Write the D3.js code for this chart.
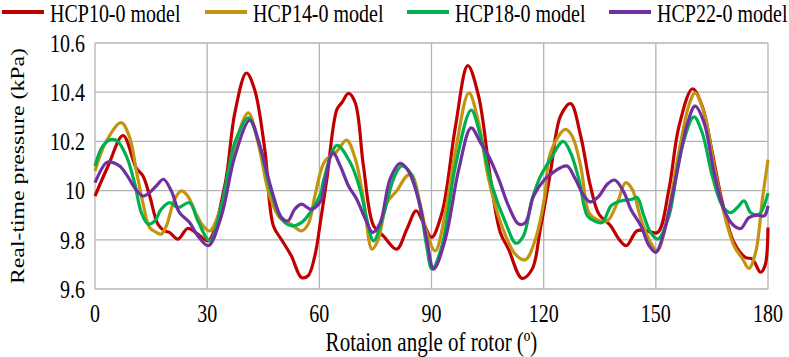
<!DOCTYPE html>
<html>
<head>
<meta charset="utf-8">
<script src="https://cdn.jsdelivr.net/npm/d3@7"></script>
<style>
  body { margin: 0; background: #fff; }
</style>
</head>
<body>
<svg id="chart" width="789" height="357"></svg>
<script>
// series data (angle in degrees, pressure in kPa)
const seriesNames = ["HCP10-0 model", "HCP14-0 model", "HCP18-0 model", "HCP22-0 model"];
const seriesColors = ["#C00000", "#C39410", "#00B050", "#7030A0"];

const hcp10Angle = [0, 3.5, 7.5, 11.0, 12.8, 14.6, 16.8, 18.6, 19.9, 22.2, 24.8, 27.5, 30.3, 34.7, 37.4, 40.5, 42.7, 45.4, 47.7, 49.9, 52.5, 55.2, 57.0, 58.8, 60.4, 62.0, 64.7, 66.0, 67.8, 69.6, 71.8, 74.5, 77.1, 80.7, 83.4, 85.9, 87.8, 90.0, 92.8, 96.4, 99.7, 102.6, 105.8, 108.4, 110.6, 114.2, 116.9, 119.1, 121.8, 124.5, 127.2, 129.9, 132.5, 134.8, 137.9, 140.1, 142.1, 145.0, 147.7, 150.5, 153.5, 156.2, 159.8, 162.4, 165.1, 167.8, 170.9, 174.0, 175.8, 178.0, 179.2, 180];
const hcp10Value = [9.978, 10.10, 10.224, 10.093, 10.06, 9.98, 9.864, 9.836, 9.83, 9.803, 9.846, 9.823, 9.796, 10.019, 10.316, 10.478, 10.41, 10.168, 9.857, 9.80, 9.735, 9.647, 9.654, 9.735, 9.884, 10.046, 10.33, 10.357, 10.395, 10.357, 10.10, 9.857, 9.816, 9.762, 9.843, 9.918, 9.87, 9.81, 9.91, 10.26, 10.508, 10.384, 10.046, 9.83, 9.762, 9.643, 9.68, 9.843, 10.073, 10.303, 10.354, 10.222, 10.019, 9.904, 9.857, 9.803, 9.776, 9.837, 9.835, 9.83, 10.005, 10.262, 10.414, 10.343, 10.154, 9.951, 9.789, 9.728, 9.722, 9.668, 9.695, 9.85];

const hcp14Angle = [0, 3.0, 7.0, 9.3, 11.0, 12.8, 14.6, 16.4, 17.7, 19.1, 21.3, 23.1, 24.8, 27.1, 28.9, 30.7, 33.8, 37.4, 41.0, 43.6, 46.7, 49.4, 52.5, 55.2, 57.0, 58.8, 60.4, 61.5, 64.7, 67.3, 69.6, 71.8, 74.1, 75.8, 78.1, 80.7, 83.4, 84.7, 86.9, 88.7, 91.0, 93.7, 96.4, 100.0, 102.6, 105.3, 108.8, 112.4, 115.1, 117.8, 120.3, 121.8, 125.8, 127.6, 129.9, 132.1, 134.0, 137.0, 139.7, 141.9, 143.7, 146.0, 148.6, 150.4, 152.6, 156.2, 158.9, 160.5, 162.9, 165.6, 168.2, 170.9, 173.2, 174.9, 176.7, 178.5, 180];
const hcp14Value = [10.08, 10.20, 10.276, 10.215, 10.086, 9.951, 9.85, 9.83, 9.823, 9.857, 9.965, 9.999, 9.978, 9.904, 9.857, 9.836, 9.938, 10.181, 10.316, 10.195, 9.978, 9.89, 9.863, 9.836, 9.863, 9.978, 10.08, 10.12, 10.16, 10.205, 10.13, 9.965, 9.762, 9.803, 9.951, 9.999, 10.06, 10.066, 9.951, 9.83, 9.755, 9.91, 10.16, 10.397, 10.276, 10.046, 9.857, 9.742, 9.719, 9.803, 9.978, 10.154, 10.249, 10.222, 10.10, 9.91, 9.884, 9.877, 9.951, 10.032, 10.005, 9.884, 9.789, 9.755, 9.857, 10.16, 10.35, 10.397, 10.316, 10.10, 9.91, 9.776, 9.722, 9.684, 9.749, 9.965, 10.125];

const hcp18Angle = [0, 2.1, 4.4, 6.1, 8.4, 10.6, 12.4, 14.2, 16.0, 17.7, 20.0, 22.2, 25.3, 27.5, 30.7, 33.8, 37.4, 41.0, 43.6, 46.7, 49.9, 52.5, 55.2, 57.9, 60.4, 61.1, 64.7, 68.3, 70.9, 72.7, 74.5, 77.1, 79.8, 82.0, 84.3, 86.9, 88.7, 90.1, 92.8, 96.4, 100.6, 103.1, 106.2, 109.8, 112.6, 114.6, 116.9, 119.2, 121.8, 125.2, 127.2, 129.4, 131.7, 133.5, 135.7, 138.0, 140.6, 143.7, 145.0, 146.8, 148.6, 150.5, 153.5, 156.7, 160.2, 162.4, 165.1, 167.8, 170.0, 171.8, 173.6, 175.4, 177.6, 180];
const hcp18Value = [10.10, 10.181, 10.208, 10.20, 10.14, 10.03, 9.91, 9.864, 9.877, 9.924, 9.951, 9.931, 9.951, 9.877, 9.796, 9.938, 10.195, 10.296, 10.208, 10.019, 9.884, 9.857, 9.87, 9.918, 9.99, 10.04, 10.184, 10.113, 10.005, 9.884, 9.796, 9.897, 10.046, 10.10, 10.073, 9.938, 9.776, 9.681, 9.776, 10.10, 10.327, 10.222, 10.019, 9.87, 9.786, 9.816, 9.965, 10.06, 10.127, 10.20, 10.154, 10.046, 9.897, 9.877, 9.87, 9.938, 9.958, 9.965, 9.972, 9.897, 9.83, 9.803, 9.897, 10.16, 10.30, 10.235, 10.06, 9.938, 9.91, 9.931, 9.958, 9.91, 9.904, 9.99];

const hcp22Angle = [0, 3.0, 4.4, 6.6, 8.4, 10.6, 12.8, 14.6, 16.4, 18.3, 20.4, 22.6, 25.3, 27.5, 30.3, 33.8, 37.4, 41.4, 44.1, 47.2, 49.9, 51.6, 53.4, 55.2, 57.9, 60.4, 61.1, 63.6, 65.6, 67.8, 70.0, 72.3, 74.3, 76.3, 78.9, 81.6, 83.8, 86.5, 88.7, 90.6, 93.7, 97.3, 100.6, 103.1, 105.3, 108.0, 110.6, 113.3, 115.1, 117.3, 120.3, 121.8, 124.5, 126.3, 128.5, 130.8, 132.5, 134.8, 137.0, 139.0, 141.5, 143.3, 146.0, 148.2, 150.0, 151.8, 155.3, 158.5, 160.5, 162.9, 165.6, 168.2, 170.9, 172.7, 174.9, 177.2, 179.0, 180];
const hcp22Value = [10.032, 10.113, 10.116, 10.10, 10.066, 10.012, 9.978, 9.992, 10.019, 10.046, 9.999, 9.91, 9.87, 9.816, 9.776, 9.897, 10.14, 10.286, 10.181, 10.005, 9.89, 9.877, 9.924, 9.945, 9.924, 9.958, 10.0, 10.154, 10.10, 10.019, 9.965, 9.884, 9.83, 9.87, 10.046, 10.111, 10.08, 9.965, 9.803, 9.681, 9.803, 10.087, 10.255, 10.195, 10.14, 10.046, 9.938, 9.864, 9.87, 9.978, 10.046, 10.066, 10.093, 10.10, 10.046, 9.978, 9.954, 9.978, 10.026, 10.043, 9.992, 9.924, 9.857, 9.776, 9.749, 9.81, 10.046, 10.276, 10.343, 10.276, 10.073, 9.924, 9.857, 9.846, 9.89, 9.90, 9.897, 9.938];

const xTicks = [0, 30, 60, 90, 120, 150, 180];
const yTicks = [9.6, 9.8, 10, 10.2, 10.4, 10.6];

const seriesAngles = [hcp10Angle, hcp14Angle, hcp18Angle, hcp22Angle];
const seriesValues = [hcp10Value, hcp14Value, hcp18Value, hcp22Value];

const serif = '"Liberation Serif"';
const stretch = 1.25;   // the reference text is drawn tall and narrow
const svg = d3.select("#chart");
const margin = {left: 95, right: 21, top: 43, bottom: 68};
const width = 789 - margin.left - margin.right;
const height = 357 - margin.top - margin.bottom;

const x = d3.scaleLinear().domain([0, 180]).range([margin.left, margin.left + width]);
const y = d3.scaleLinear().domain([9.6, 10.6]).range([margin.top + height, margin.top]);

function label(g, tx, ty, txt, size, anchor) {
    return g.append("text")
        .attr("transform", `translate(${tx},${ty}) scale(1,${stretch})`)
        .attr("text-anchor", anchor)
        .attr("dy", "0.35em")
        .attr("font-size", size)
        .style("font-family", serif)
        .style("fill", "#000")
        .text(txt);
}

const grid = svg.append("g");
grid.selectAll("line.h").data(yTicks).join("line")
    .attr("x1", x(0)).attr("x2", x(180))
    .attr("y1", d => y(d)).attr("y2", d => y(d))
    .attr("stroke", "#b4b4b4").attr("stroke-width", 1.3);
grid.selectAll("line.v").data(xTicks).join("line")
    .attr("x1", d => x(d)).attr("x2", d => x(d))
    .attr("y1", y(9.6)).attr("y2", y(10.6))
    .attr("stroke", "#b4b4b4").attr("stroke-width", 1.3);

// tick labels
const xFmt = d3.format("d");
const yFmt = d => d === 10 ? "10" : d3.format(".1f")(d);
const ticks = svg.append("g");
xTicks.forEach(d => label(ticks, x(d), y(9.6) + 24, xFmt(d), 20, "middle"));
yTicks.forEach(d => label(ticks, x(0) - 10, y(d), yFmt(d), 20, "end"));

// lines
const line = d3.line()
    .x(d => x(d[0]))
    .y(d => y(d[1]))
    .curve(d3.curveCatmullRom.alpha(0.5));

const plot = svg.append("g");
seriesNames.forEach((name, i) => {
    const pts = seriesAngles[i].map((a, k) => [a, seriesValues[i][k]]);
    plot.append("path")
        .datum(pts)
        .attr("fill", "none")
        .attr("stroke", seriesColors[i])
        .attr("stroke-width", 3.2)
        .attr("stroke-linejoin", "round")
        .attr("d", line);
});

// legend
const legendX = [2, 205, 407, 609];
const legend = svg.append("g");
seriesNames.forEach((name, i) => {
    legend.append("line")
        .attr("x1", legendX[i]).attr("x2", legendX[i] + 42)
        .attr("y1", 12).attr("y2", 12)
        .attr("stroke", seriesColors[i]).attr("stroke-width", 4);
    label(legend, legendX[i] + 48, 13, name, 20, "start");
});

// axis titles
label(svg, (x(0) + x(180)) / 2, 342, "Rotaion angle of rotor (º)", 21, "middle");

svg.append("text")
    .attr("transform", `translate(17,${(y(9.6) + y(10.6)) / 2}) scale(1,${stretch}) rotate(-90)`)
    .attr("text-anchor", "middle")
    .attr("dy", "0.35em")
    .attr("font-size", 19)
    .style("font-family", serif)
    .style("fill", "#000")
    .text("Real-time  pressure (kPa)");
</script>
</body>
</html>
